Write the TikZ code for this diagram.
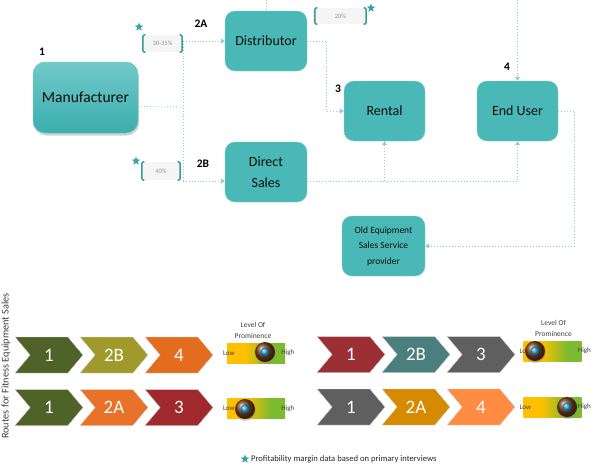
\documentclass[tikz,border=0pt]{standalone}
\usepackage{fontspec}
\setmainfont{Carlito}
\usetikzlibrary{positioning,shapes.geometric,shapes.symbols,arrows.meta,shadows}

\definecolor{boxteal}{HTML}{4BB8B8}
\definecolor{boxtop}{HTML}{72C9C9}
\definecolor{boxbot}{HTML}{3AAEAE}
\definecolor{linkteal}{HTML}{8ED0D0}
\definecolor{brkteal}{HTML}{3A9999}
\definecolor{starteal}{HTML}{3AA3A3}
\definecolor{cOliveDk}{HTML}{4F6228}
\definecolor{cOlive}{HTML}{A09A2C}
\definecolor{cOrange}{HTML}{E46C1E}
\definecolor{cOrangeB}{HTML}{E8722A}
\definecolor{cDarkRed}{HTML}{A0292E}
\definecolor{cRed}{HTML}{9C2F33}
\definecolor{cTeal}{HTML}{4A7F7D}
\definecolor{cGray}{HTML}{5F5F5F}
\definecolor{cAmber}{HTML}{D58A00}
\definecolor{cLtOrange}{HTML}{FF8C42}
\definecolor{pyellow}{HTML}{FFC000}
\definecolor{pgreen}{HTML}{7CBB2F}
\definecolor{knobbrown}{HTML}{7A3E1A}
\definecolor{gemblue}{HTML}{1FA6E0}

\pgfdeclarehorizontalshading{prominence}{100bp}{color(0bp)=(pyellow); color(40bp)=(pyellow); color(63bp)=(pgreen); color(100bp)=(pgreen)}

\begin{document}
\begin{tikzpicture}[x=1pt, y=-1pt,
    box/.style={fill=boxteal, draw=boxteal!70!white, rounded corners=10pt, align=center,
        inner sep=2pt, text=black!95, font=\fontsize{14}{21}\selectfont},
    num/.style={font=\fontsize{11.5}{11.5}\selectfont\bfseries},
    link/.style={draw=linkteal, dotted, line width=0.9pt},
    flow/.style={link, -{Triangle[width=5pt,length=4pt]}},
    pct/.style={fill=black!4, inner sep=0pt, text=black!40, font=\fontsize{6.5}{6.5}\selectfont},
    brk/.style={draw=brkteal, line width=1.5pt, rounded corners=1.5pt},
    tstar/.style={star, star points=5, star point ratio=2.3, fill=starteal, minimum size=9pt, inner sep=0pt},
    chev/.style={signal, signal from=west, signal to=east, signal pointer angle=100,
        minimum width=68pt, minimum height=36pt, inner sep=0pt, draw=white!85!black,
        line width=0.4pt, text=white, font=\fontsize{19}{19}\selectfont},
    bar/.style={shading=prominence, minimum width=58pt, minimum height=20pt, inner sep=0pt},
    knob/.style={circle, ball color=knobbrown, minimum size=20pt, inner sep=0pt,
        drop shadow={opacity=0.35, shadow xshift=0.5pt, shadow yshift=-2pt}},
    gem/.style={circle, ball color=gemblue, minimum size=9pt, inner sep=0pt},
    tiny/.style={text=black!75, inner sep=0pt, font=\fontsize{7}{7}\selectfont},
    lvl/.style={align=center, text=black!75, inner sep=0pt, font=\fontsize{7.5}{11}\selectfont}
]
\useasboundingbox (0,0) rectangle (596,469);

% channel boxes
\node[box, top color=boxtop, bottom color=boxbot, rounded corners=12pt, minimum width=105pt,
    minimum height=71pt, font=\fontsize{15.5}{15.5}\selectfont,
    drop shadow={opacity=0.35, shadow xshift=1pt, shadow yshift=-2.5pt}] (mfr) at (85.5,97.5) {Manufacturer};
\node[box, minimum width=82pt, minimum height=60pt] (dist) at (266,41) {Distributor};
\node[box, minimum width=82pt, minimum height=60pt] (direct) at (266,172) {Direct\\Sales};
\node[box, minimum width=81pt, minimum height=60pt] (rental) at (384.5,111) {Rental};
\node[box, minimum width=81pt, minimum height=60pt] (enduser) at (517.5,111) {End User};
\node[box, minimum width=83pt, minimum height=60pt, font=\fontsize{9.5}{15.5}\selectfont] (oldeq) at (383.5,246)
    {Old Equipment\\Sales Service\\provider};

% step numbers
\node[num] (n1) at (42,52) {1};
\node[num] (n2a) at (201,24) {2A};
\node[num] (n2b) at (203,164) {2B};
\node[num] (n3) at (338,89) {3};
\node[num] (n4) at (507,67) {4};

% margins
\node[pct, minimum width=39pt, minimum height=17pt] (p1) at (162.5,43.5) {30-35\%};
\node[pct, minimum width=38pt, minimum height=18pt] (p2) at (161,171) {40\%};
\node[pct, minimum width=51pt, minimum height=16pt] (p3) at (340.5,16) {20\%};
\foreach \n in {p1,p2,p3} {
    \draw[brk] ([xshift=2.5pt]\n.north west) -- (\n.north west) -- (\n.south west) -- ([xshift=2.5pt]\n.south west);
    \draw[brk] ([xshift=-2.5pt]\n.north east) -- (\n.north east) -- (\n.south east) -- ([xshift=-2.5pt]\n.south east);
}
\node[tstar] (s1) at (139,27) {};
\node[tstar] (s2) at (136,161) {};
\node[tstar] (s3) at (371,8) {};

% connectors
\coordinate (jtop) at (183,41);
\coordinate (jmid) at (183,107);
\coordinate (jbot) at (183,181);
\coordinate (topd) at (266,0);
\coordinate (tope) at (517.5,0);
\coordinate (dline) at ([yshift=-9pt]direct.east);
\draw[link] ([yshift=-9pt]mfr.east) -- (jmid);
\draw[link] (jtop) -- (jbot);
\draw[flow] (jtop) -- (dist.west);
\draw[flow] (jbot) -- ([yshift=-9pt]direct.west);
\draw[link] (topd) -- (dist.north);
\draw[flow] (tope) -- (enduser.north);
\draw[flow] (dist.east) -- ++(19,0) |- (rental.west);
\draw[flow] (dline) -| (enduser.south);
\draw[flow] (rental.south |- dline) -- (rental.south);
\draw[flow] (enduser.east) -- ++(16,0) |- (oldeq.east);

% routes
\node[rotate=90, text=black!75, font=\fontsize{10.3}{10.3}\selectfont] (routes) at (6,366) {Routes for Fitness Equipment Sales};
\foreach \x/\t/\c in {49/1/cOliveDk, 114/2B/cOlive, 179/4/cOrange}
    \node[chev, fill=\c] (la-\t) at (\x,355) {\t};
\foreach \x/\t/\c in {49/1/cOliveDk, 114/2A/cOrangeB, 179/3/cDarkRed}
    \node[chev, fill=\c] (lb-\t) at (\x,407.5) {\t};
\foreach \x/\t/\c in {351/1/cRed, 416/2B/cTeal, 481/3/cGray}
    \node[chev, fill=\c] (ra-\t) at (\x,354.5) {\t};
\foreach \x/\t/\c in {351/1/cGray, 416/2A/cAmber, 481/4/cLtOrange}
    \node[chev, fill=\c] (rb-\t) at (\x,407) {\t};

% prominence scales
\node[bar] (lbar1) at (256,353) {};
\node[bar] (lbar2) at (256,408.5) {};
\node[bar] (rbar1) at (552.5,351) {};
\node[bar] (rbar2) at (552.5,407) {};
\foreach \b in {lbar1,lbar2,rbar1,rbar2} {
    \node[tiny, anchor=west] at ([xshift=-4pt]\b.west) {Low};
    \node[tiny, anchor=west] at ([xshift=-4pt]\b.east) {High};
}
\node[lvl, above=4pt of lbar1, xshift=-3pt] (lvl1) {Level Of\\Prominence};
\node[lvl, above=4pt of rbar1, xshift=1pt] (lvl2) {Level Of\\Prominence};
\foreach \k/\p in {k1/{(265,352)}, k2/{(245,409)}, k3/{(535,351)}, k4/{(567,407)}} {
    \node[knob] (\k) at \p {};
    \node[gem] at (\k) {};
}

% legend
\node[tstar] (legstar) at (245,459) {};
\node[right=3pt of legstar, inner sep=0pt, text=black!85, font=\fontsize{8.6}{8.6}\selectfont] (legend)
    {Profitability margin data based on primary interviews};
\end{tikzpicture}
\end{document}
